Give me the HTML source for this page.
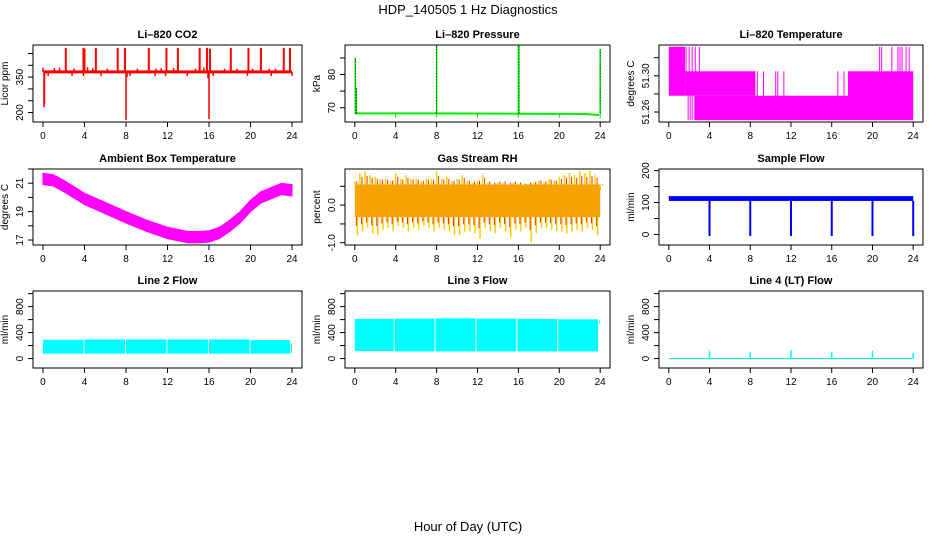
<!DOCTYPE html>
<html><head><meta charset="utf-8"><style>
body{margin:0;background:#fff;}
svg{display:block;font-family:"Liberation Sans",Arial,sans-serif;}
.t{font-size:11px;font-weight:bold;}
.tk{font-size:10px;}
</style></head><body>
<svg id="c" width="936" height="540" viewBox="0 0 936 540">
<rect width="936" height="540" fill="#fff"/>
<text x="468" y="14" text-anchor="middle" font-size="13">HDP_140505  1 Hz Diagnostics</text>
<text x="468" y="531" text-anchor="middle" font-size="13">Hour of Day (UTC)</text>
</svg>
<script>
// ---- data ----
const hourTicks=[0,4,8,12,16,20,24];
const co2Base=372;
const co2UpSpikes=[[2.2,474],[3.9,474],[4.0,470],[5.1,474],[7.2,474],[7.9,474],[10.2,474],[11.9,474],[13.0,474],[15.1,474],[15.8,474],[16.1,470],[18.1,474],[19.8,474],[21.0,474],[23.2,474],[23.8,474]];
const co2SmallUp=[[0.0,390],[1.1,388],[1.6,390],[3.0,386],[4.3,392],[4.8,388],[6.2,386],[9.1,386],[10.9,386],[11.4,388],[12.6,388],[14.7,386],[15.5,390],[17.5,386],[18.7,386],[20.2,386],[21.8,386],[22.4,386]];
const co2DownSpikes=[[0.1,222],[0.15,235],[8.0,168],[8.1,350],[16.0,172],[15.9,345],[0.5,355],[2.8,355],[3.9,355],[5.6,355],[8.4,355],[10.8,355],[11.8,355],[13.9,355],[16.4,355],[19.7,355],[22.0,355],[24.0,355]];
const presBase=[[0,68.3],[8,68.3],[16,68.2],[22.5,68.1],[23.9,67.8]];
const presSpikes=[[0.05,85],[0.15,76],[8.0,88.9],[16.0,88.9],[16.05,88.9],[24.0,87.6]];
const presDips=[[4,67],[8,67],[12,67],[16,67],[20,67],[24,66.8]];
const tempBands=[[0,1.6,51.278,51.332],[1.6,8.5,51.278,51.305],[2.5,17.6,51.251,51.278],[17.6,24,51.251,51.305]];
const tempLines=[[0.9,51.305,51.332],[1.7,51.305,51.332],[2.0,51.305,51.332],[2.3,51.305,51.332],[2.6,51.305,51.332],[3.0,51.305,51.332],[1.9,51.251,51.278],[2.1,51.251,51.278],[2.3,51.251,51.278],[8.7,51.278,51.305],[9.3,51.278,51.305],[10.5,51.278,51.305],[10.7,51.278,51.305],[11.3,51.278,51.305],[16.6,51.278,51.305],[17.2,51.278,51.305],[20.7,51.305,51.332],[20.9,51.305,51.332],[21.9,51.305,51.332],[22.5,51.305,51.332],[22.7,51.305,51.332],[22.9,51.305,51.332],[23.3,51.305,51.332],[23.6,51.305,51.332]];
const ambHours=[0,1,2,4,6,8,10,12,14,15,16,17,18,19,20,21,22,23,24];
const ambCenter=[21.3,21.2,20.8,19.9,19.25,18.6,18.0,17.5,17.2,17.2,17.25,17.5,18.0,18.6,19.4,20.0,20.3,20.6,20.5];
const rhUpper=[0.62,0.85,0.9,0.8,0.75,0.7,0.7,0.65,0.85,0.7,0.8,0.7,0.7,0.65,0.7,0.7,0.9,0.7,0.75,0.65,0.7,0.8,0.65,0.6,0.65,0.8,0.6,0.55,0.6,0.6,0.55,0.6,0.55,0.5,0.55,0.6,0.65,0.6,0.7,0.65,0.75,0.8,0.85,0.8,0.9,0.85,0.9,0.8,0.4];
const rhLower=[-0.8,-0.7,-0.6,-0.75,-0.8,-0.65,-0.6,-0.7,-0.55,-0.6,-0.7,-0.6,-0.65,-0.55,-0.6,-0.7,-0.6,-0.65,-0.7,-0.8,-0.8,-0.7,-0.7,-0.75,-0.9,-0.6,-0.7,-0.75,-0.6,-0.7,-0.85,-0.65,-0.7,-0.6,-1.0,-0.75,-0.6,-0.6,-0.65,-0.7,-0.7,-0.75,-0.7,-0.65,-0.7,-0.6,-0.65,-0.8,-0.4];
const rhCore=[-0.32,0.55];
const flowBand=[105,120];
const flowDips=[[4,-5],[8,-5],[12,-5],[16,-5],[20,-5],[24,-5]];
const line2Segs=[[0,3.9,75,290],[4.0,7.9,75,295],[8.0,11.9,75,295],[12.0,15.9,75,295],[16.0,19.9,75,295],[20.0,23.8,75,285],[23.9,24,80,240]];
const line3Segs=[[0,3.8,115,610],[3.9,7.8,110,615],[7.9,11.8,110,620],[11.9,15.8,110,615],[15.9,19.8,110,610],[19.9,23.8,110,605],[23.9,24,540,590]];
const line4Spikes=[[4,120],[8,100],[12,130],[16,100],[20,120],[24,90]];

// ---- layout ----
const cols=[[33,302],[345,610],[659,923]];
const rows=[[45,122],[169,245],[291,368]];
const svg=document.getElementById('c');
const NS='http://www.w3.org/2000/svg';
function mk(tag,attrs,parent){const e=document.createElementNS(NS,tag);for(const k in attrs)e.setAttribute(k,attrs[k]);(parent||svg).appendChild(e);return e;}

function panel(ci,ri,title,ytitle,ydom,yticks,ylabels,name){
  const [x0,x1]=cols[ci],[y0,y1]=rows[ri];
  const g=mk('g',{});
  
  
  const xs=h=>x0+(h+0.96)/25.92*(x1-x0);
  const ys=v=>y1-(v-ydom[0])/(ydom[1]-ydom[0])*(y1-y0);
  const plot=mk('g',{},g);
  
  
  const box=mk('rect',{x:x0,y:y0,width:x1-x0,height:y1-y0,fill:'none',stroke:'#000','stroke-width':1},g);
  
  
  const t=mk('text',{x:(x0+x1)/2,y:y0-7,'text-anchor':'middle',class:'t'},g);t.textContent=title;
  
  
  const xa=mk('g',{},g);
  
  
  mk('line',{x1:xs(0),x2:xs(24),y1:y1,y2:y1,stroke:'#000'},xa);
  hourTicks.forEach(h=>{mk('line',{x1:xs(h),x2:xs(h),y1:y1,y2:y1+5,stroke:'#000'},xa);
    const l=mk('text',{x:xs(h),y:y1+17,'text-anchor':'middle',class:'tk'},xa);l.textContent=h;});
  const ya=mk('g',{},g);
  
  
  mk('line',{x1:x0,x2:x0,y1:ys(yticks[0]),y2:ys(yticks[yticks.length-1]),stroke:'#000'},ya);
  yticks.forEach(v=>mk('line',{x1:x0-5,x2:x0,y1:ys(v),y2:ys(v),stroke:'#000'},ya));
  ylabels.forEach(v=>{const lx=x0-10,ly=ys(v);const l=mk('text',{x:lx,y:ly,'text-anchor':'middle',class:'tk',transform:`rotate(-90 ${lx} ${ly})`},ya);l.textContent=v;});
  const tx=x0-25,ty=(y0+y1)/2;
  const yt=mk('text',{x:tx,y:ty,'text-anchor':'middle',class:'tk',transform:`rotate(-90 ${tx} ${ty})`},g);yt.textContent=ytitle;
  
  
  return {xs,ys,plot};
}
function vline(p,x,a,b,col,w){return mk('line',{x1:x,x2:x,y1:a,y2:b,stroke:col,'stroke-width':w||1},p);}

// 1 CO2
{const P=panel(0,0,'Li–820 CO2','Licor ppm',[160,486],[200,250,300,350,400,450],['200','350'],'co2');
 const c='#ff0000';
 mk('line',{x1:P.xs(0),x2:P.xs(24),y1:P.ys(co2Base),y2:P.ys(co2Base),stroke:c,'stroke-width':3},P.plot);
 co2UpSpikes.forEach(s=>vline(P.plot,P.xs(s[0]),P.ys(co2Base),P.ys(s[1]),c,2));
 co2SmallUp.forEach(s=>vline(P.plot,P.xs(s[0]),P.ys(co2Base),P.ys(s[1]),c,1.5));
 co2DownSpikes.forEach(s=>vline(P.plot,P.xs(s[0]),P.ys(co2Base),P.ys(s[1]),c,1.5));
}
// 2 Pressure
{const P=panel(1,0,'Li–820 Pressure','kPa',[65.7,88.9],[70,75,80,85],['70','80'],'pressure');
 const c='#00ee00';
 mk('polyline',{points:presBase.map(p=>P.xs(p[0])+','+P.ys(p[1])).join(' '),fill:'none',stroke:c,'stroke-width':2},P.plot);
 presDips.forEach(s=>vline(P.plot,P.xs(s[0]),P.ys(68.2),P.ys(s[1]),c,1));
 presSpikes.forEach(s=>{vline(P.plot,P.xs(s[0]),P.ys(68.3),P.ys(s[1]),c,1.5);
   const l=vline(P.plot,P.xs(s[0]),P.ys(68.3),P.ys(s[1]),'#000',0.8);l.setAttribute('stroke-dasharray','1 2');});
}
// 3 Temperature
{const P=panel(2,0,'Li–820 Temperature','degrees C',[51.249,51.334],[51.26,51.28,51.30,51.32],['51.26','51.30'],'licor-temperature');
 const c='#ff00ff';
 tempBands.forEach(b=>mk('rect',{x:P.xs(b[0]),y:P.ys(b[3]),width:P.xs(b[1])-P.xs(b[0]),height:P.ys(b[2])-P.ys(b[3]),fill:c},P.plot));
 tempLines.forEach(l=>vline(P.plot,P.xs(l[0]),P.ys(l[1]),P.ys(l[2]),c,1));
}
// 4 Ambient
{const P=panel(0,1,'Ambient Box Temperature','degrees C',[16.65,22.0],[17,18,19,20,21,22],['17','19','21'],'ambient-temperature');
 const up=ambHours.map((h,i)=>P.xs(h)+','+P.ys(ambCenter[i]+0.4));
 const dn=ambHours.map((h,i)=>P.xs(h)+','+P.ys(ambCenter[i]-0.4)).reverse();
 mk('polygon',{points:up.concat(dn).join(' '),fill:'#ff00ff',stroke:'#ff00ff','stroke-width':1},P.plot);
}
// 5 RH
{const P=panel(1,1,'Gas Stream RH','percent',[-1.06,0.96],[-1.0,-0.5,0.0,0.5],['-1.0','0.0'],'gas-stream-rh');
 mk('rect',{x:P.xs(0),y:P.ys(rhCore[1]),width:P.xs(24)-P.xs(0),height:P.ys(rhCore[0])-P.ys(rhCore[1]),fill:'#f5a300'},P.plot);
 rhUpper.forEach((v,i)=>{const h=i*0.5;
   vline(P.plot,P.xs(h),P.ys(rhCore[1]),P.ys(v),'#ffcc00',1.5);
   vline(P.plot,P.xs(h+0.2),P.ys(rhCore[1]),P.ys((v+rhCore[1])/2+0.05),'#ee3300',1);});
 rhLower.forEach((v,i)=>{const h=i*0.5+0.25;if(h>24)return;
   vline(P.plot,P.xs(h),P.ys(rhCore[0]),P.ys(v),'#ffcc00',1.5);
   vline(P.plot,P.xs(h-0.1),P.ys(rhCore[0]),P.ys((v+rhCore[0])/2),'#ee3300',1);});
}
// 6 Sample flow
{const P=panel(2,1,'Sample Flow','ml/min',[-33,205],[0,50,100,150,200],['0','100','200'],'sample-flow');
 const c='#0000ff';
 mk('rect',{x:P.xs(0),y:P.ys(flowBand[1]),width:P.xs(24)-P.xs(0),height:P.ys(flowBand[0])-P.ys(flowBand[1]),fill:c},P.plot);
 flowDips.forEach(d=>vline(P.plot,P.xs(d[0]),P.ys(flowBand[0]),P.ys(d[1]),c,2));
}
// 7-9 Line flows
const flowTicks=[0,200,400,600,800,1000],flowLabels=['0','400','800'];
{const P=panel(0,2,'Line 2 Flow','ml/min',[-145,1040],flowTicks,flowLabels,'line2-flow');
 line2Segs.forEach(s=>mk('rect',{x:P.xs(s[0]),y:P.ys(s[3]),width:P.xs(s[1])-P.xs(s[0]),height:P.ys(s[2])-P.ys(s[3]),fill:'#00ffff'},P.plot));}
{const P=panel(1,2,'Line 3 Flow','ml/min',[-145,1040],flowTicks,flowLabels,'line3-flow');
 line3Segs.forEach(s=>mk('rect',{x:P.xs(s[0]),y:P.ys(s[3]),width:P.xs(s[1])-P.xs(s[0]),height:P.ys(s[2])-P.ys(s[3]),fill:'#00ffff'},P.plot));}
{const P=panel(2,2,'Line 4 (LT) Flow','ml/min',[-145,1040],flowTicks,flowLabels,'line4-flow');
 mk('line',{x1:P.xs(0),x2:P.xs(24),y1:P.ys(0),y2:P.ys(0),stroke:'#00e5e5','stroke-width':1},P.plot);
 line4Spikes.forEach(s=>vline(P.plot,P.xs(s[0]),P.ys(0),P.ys(s[1]),'#00ffff',1.5));}
</script>
</body></html>
